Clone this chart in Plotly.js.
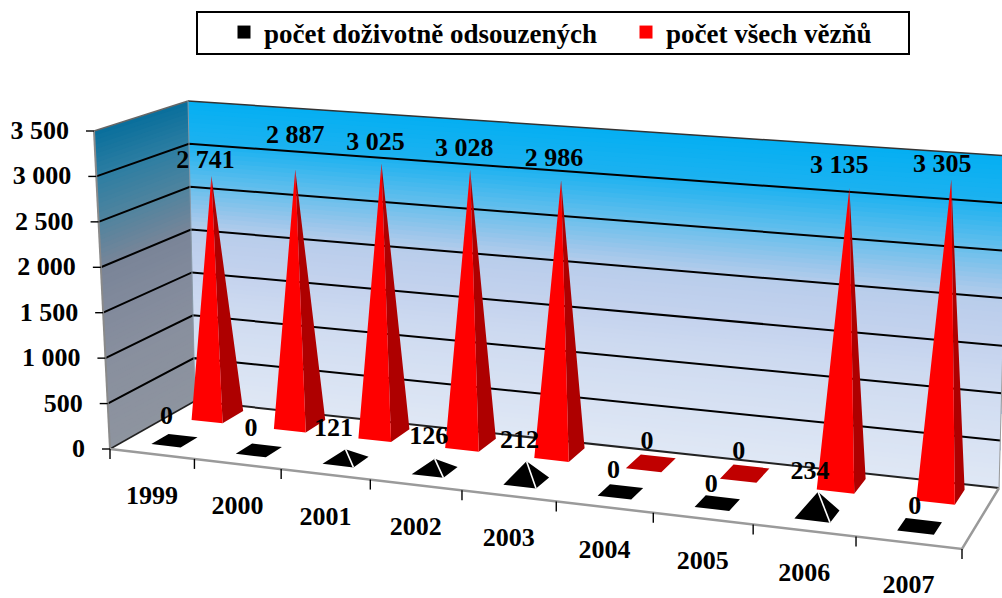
<!DOCTYPE html>
<html><head><meta charset="utf-8">
<script src="https://cdn.plot.ly/plotly-3.0.1.min.js"></script>
<style>html,body{margin:0;padding:0;background:#fff}#c{width:1002px;height:598px}</style>
</head><body><div id="c"></div>
<script>
const years = ['1999','2000','2001','2002','2003','2004','2005','2006','2007'];
const lifers = [0,0,121,126,212,0,0,234,0];
const prisoners = [2741,2887,3025,3028,2986,0,0,3135,3305];
const valueTicks = [0,500,1000,1500,2000,2500,3000,3500];
const lifersName = 'počet doživotně odsouzených';
const prisonersName = 'počet všech vězňů';
const lifersLabelShift = [[-8,-23],[-8,-21],[-12,-20],[-6,-21],[-7,-20],[-7,-20],[-6,-18],[-8,-19],[-5,-19]];
const prisonersLabelShift = [[-6,-15],[0,-33],[-6,-20],[-6,-20],[-7,-21],[-4,-21],[-6,-21],[-10,-22],[-9,-14]];

const SERIF = '"Liberation Serif","Times New Roman",serif';
const VMAX = 3500, N = years.length;
// picture geometry of the 3-D box
const FL=[110,449], FR=[962,549], BR=[999,488], BL=[195,401];
const H={FL:318,FR:350,BR:332,BL:300}, L={FL:-16,FR:25,BR:9,BL:-7};
// square -> quad homography
const hom=(()=>{const [x0,y0]=FL,[x1,y1]=FR,[x2,y2]=BR,[x3,y3]=BL;
 const dx1=x1-x2,dx2=x3-x2,sx=x0-x1+x2-x3,dy1=y1-y2,dy2=y3-y2,sy=y0-y1+y2-y3;
 const den=dx1*dy2-dx2*dy1,g=(sx*dy2-dx2*sy)/den,h=(dx1*sy-sx*dy1)/den;
 return {a:x1-x0+g*x1,b:x3-x0+h*x3,c:x0,d:y1-y0+g*y1,e:y3-y0+h*y3,f:y0,g,h};})();
function P(u,d,v){
 const w=hom.g*u+hom.h*d+1,x=(hom.a*u+hom.b*d+hom.c)/w,y=(hom.d*u+hom.e*d+hom.f)/w;
 const bl=(q)=>q.FL*(1-u)*(1-d)+q.FR*u*(1-d)+q.BR*u*d+q.BL*(1-u)*d;
 const t=(v||0)/VMAX;
 return [x+bl(L)*t,y-bl(H)*t];
}
const RED_D=0.78,RED_H=0.13,RED_W=0.19,BLK_D=0.26,BLK_H=0.10,BLK_W=0.175;
function pyramid(i,val,dc,dh,hw){
 const u=k=>(i+0.5+k*hw)/N;
 return {fl:P(u(-1),dc-dh),fr:P(u(1),dc-dh),br:P(u(1),dc+dh),bl:P(u(-1),dc+dh),
  apex:P(u(0),dc,val),center:P(u(0),dc,0)};
}
function polys(list){const x=[],y=[];list.forEach(pts=>{pts.forEach(p=>{x.push(p[0]);y.push(p[1]);});x.push(pts[0][0],null);y.push(pts[0][1],null);});return {x,y};}
function fillTrace(list,color){const q=polys(list);return {type:'scatter',mode:'lines',x:q.x,y:q.y,fill:'toself',fillcolor:color,line:{width:0,color:color},showlegend:false,hoverinfo:'skip'};}
function lineTrace(segs,color,width){const x=[],y=[];segs.forEach(s=>{s.forEach(p=>{x.push(p[0]);y.push(p[1]);});x.push(null);y.push(null);});return {type:'scatter',mode:'lines',x,y,line:{color,width},showlegend:false,hoverinfo:'skip'};}
function textTrace(pts,text,pos){return {type:'scatter',mode:'text',x:pts.map(p=>p[0]),y:pts.map(p=>p[1]),text,textposition:pos||'middle center',textfont:{family:SERIF,size:26,color:'#000',weight:700},showlegend:false,hoverinfo:'skip',cliponaxis:false};}
function mix(stops,t){for(let i=1;i<stops.length;i++){if(t<=stops[i][0]){const a=stops[i-1],b=stops[i],f=(t-a[0])/(b[0]-a[0]);return 'rgb('+[1,2,3].map(k=>Math.round(a[k]+(b[k]-a[k])*f)).join(',')+')';}}const l=stops[stops.length-1];return `rgb(${l[1]},${l[2]},${l[3]})`;}
const backStops=[[0,224,232,245],[0.29,208,220,241],[0.43,197,211,238],[0.57,185,205,235],[0.64,150,197,235],[0.71,110,192,236],[0.86,30,178,240],[1,5,175,242]];
const sideStops=[[0,142,148,159],[0.29,136,143,158],[0.43,130,138,156],[0.57,122,133,152],[0.71,83,132,158],[0.86,46,126,162],[1,10,111,156]];
const shapes=[];
function path(pts){return 'M'+pts.map(p=>p[0].toFixed(2)+','+p[1].toFixed(2)).join('L')+'Z';}
// walls painted as overlapping bands, top band first
for(let k=70;k>=1;k--){const v=VMAX*k/70,t=k/70;
 shapes.push({type:'path',xref:'x',yref:'y',layer:'below',path:path([P(0,1,0),P(1,1,0),P(1,1,v),P(0,1,v)]),fillcolor:mix(backStops,t),line:{width:0}});
 shapes.push({type:'path',xref:'x',yref:'y',layer:'below',path:path([P(0,0,0),P(0,1,0),P(0,1,v),P(0,0,v)]),fillcolor:mix(sideStops,t),line:{width:0}});
}
// legend frame
shapes.push({type:'rect',xref:'x',yref:'y',x0:197,x1:909,y0:12,y1:54,line:{color:'#000',width:2},fillcolor:'#fff',layer:'below'});

const data=[];
// legend keys
data.push({type:'scatter',mode:'markers',x:[null],y:[null],name:lifersName,marker:{symbol:'square',size:13,color:'#000'},hoverinfo:'skip'});
data.push({type:'scatter',mode:'markers',x:[null],y:[null],name:prisonersName,marker:{symbol:'square',size:13,color:'#ff0000'},hoverinfo:'skip'});
// floor
data.push(fillTrace([[P(0,0),P(1,0),P(1,1),P(0,1)]],'#ffffff'));
// gridlines
data.push(lineTrace(valueTicks.filter(v=>v>0&&v<VMAX).map(v=>[P(0,0,v),P(0,1,v),P(1,1,v)]),'#000',2));
data.push(lineTrace([[P(0,1,0),P(1,1,0)]],'#222',2));
data.push(lineTrace([[P(0,0,0),P(0,1,0)]],'#222',1.5));
// box edges
data.push(lineTrace([[P(0,0,VMAX),P(0,1,VMAX)]],'#666',1.5));
data.push(lineTrace([[P(0,1,VMAX),P(1,1,VMAX)]],'#333',1.5));
data.push(lineTrace([[P(0,0,0),P(0,0,VMAX)]],'#8a8a8a',2));
data.push(lineTrace([[P(0,1,0),P(0,1,VMAX)]],'#8a9aa8',1));
data.push(lineTrace([[P(0,0,0),P(1,0,0),P(1,1,0)]],'#9a9a9a',2.5));
data.push(lineTrace([[P(1,1,0),P(1,1,VMAX)]],'#999',1));
// ticks
data.push(lineTrace(valueTicks.map(v=>{const p=P(0,0,v);return [[p[0]-8,p[1]],p];}),'#000',1.4));
data.push(lineTrace(years.concat(['']).map((_,i)=>{const p=P(i/N,0,0);return [p,[p[0],p[1]+10]];}),'#000',1.4));
// pyramids
const red=prisoners.map((v,i)=>pyramid(i,v,RED_D,RED_H,RED_W)), blk=lifers.map((v,i)=>pyramid(i,v,BLK_D,BLK_H,BLK_W));
data.push(fillTrace(red.filter((_,i)=>prisoners[i]===0).map(p=>[p.fl,p.fr,p.br,p.bl]),'#c00000'));
data.push(fillTrace(red.filter((_,i)=>prisoners[i]>0).map(p=>[p.fr,p.br,p.apex]),'#ae0000'));
data.push(fillTrace(red.filter((_,i)=>prisoners[i]>0).map(p=>[p.fl,p.fr,p.apex]),'#ff0000'));
data.push(fillTrace(blk.filter((_,i)=>lifers[i]===0).map(p=>[p.fl,p.fr,p.br,p.bl]),'#000000'));
data.push(fillTrace(blk.filter((_,i)=>lifers[i]>0).map(p=>[p.fl,p.fr,p.br,p.apex]),'#000000'));
data.push(lineTrace(blk.filter((_,i)=>lifers[i]>0).map(p=>[p.fr,p.apex]),'#ffffff',1.6));
// text
const fmt=v=>String(v).replace(/(\d)(\d{3})$/,'$1 $2');
data.push(textTrace(valueTicks.map(v=>{const p=P(0,0,v);return [p[0]-25,p[1]+1.5];}),valueTicks.map(fmt),'middle left'));
data.push(textTrace(years.map((_,i)=>{const p=P((i+0.5)/N,0,0);return [p[0],p[1]+44];}),years));
data.push(textTrace(red.map((p,i)=>[p.apex[0]+prisonersLabelShift[i][0],p.apex[1]+prisonersLabelShift[i][1]]),prisoners.map(fmt)));
data.push(textTrace(blk.map((p,i)=>[p.apex[0]+lifersLabelShift[i][0],p.apex[1]+lifersLabelShift[i][1]]),lifers.map(fmt)));

Plotly.newPlot('c',data,{
 width:1002,height:598,margin:{l:0,r:0,t:0,b:0,autoexpand:false},paper_bgcolor:'#fff',plot_bgcolor:'#fff',
 xaxis:{range:[0,1002],visible:false,fixedrange:true},
 yaxis:{range:[598,0],visible:false,fixedrange:true},
 shapes,
 showlegend:true,
 legend:{orientation:'h',x:224/1002,xanchor:'left',y:1-8/598,yanchor:'top',bgcolor:'rgba(0,0,0,0)',borderwidth:0,
  font:{family:SERIF,size:27,color:'#000',weight:700},entrywidth:357,entrywidthmode:'pixels',itemwidth:30,itemclick:false,itemdoubleclick:false}
},{displayModeBar:false,staticPlot:true});
</script></body></html>
